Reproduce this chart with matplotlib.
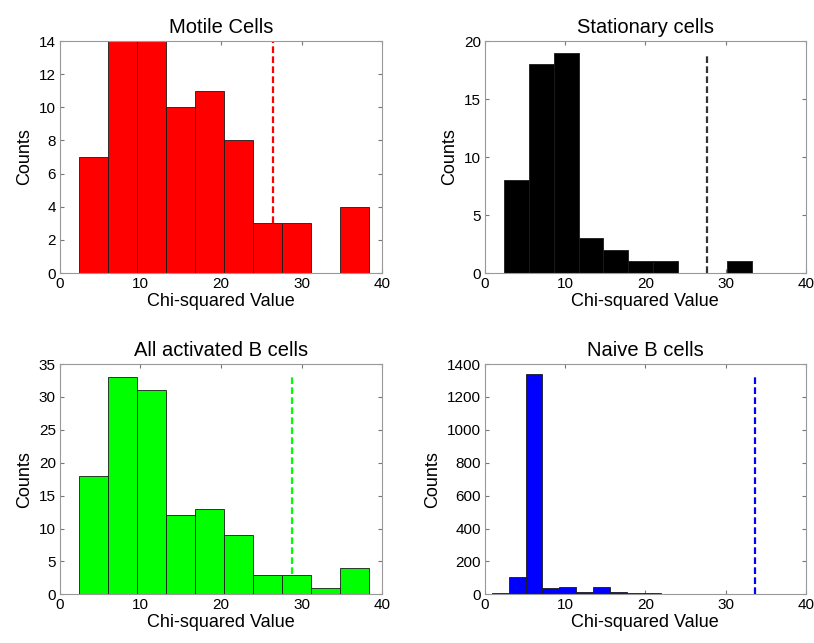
import matplotlib
matplotlib.use("Agg")
import matplotlib.pyplot as plt
import numpy as np

plt.rcParams["font.family"] = ["Liberation Sans", "DejaVu Sans"]

# bin ranges (first edge, last edge), 10 equal bins each
motile_range = (2.3, 38.4)
motile_counts = [7, 14, 14, 10, 11, 8, 3, 3, 0, 4]
motile_cutoff = 26.45

stationary_range = (2.4, 33.3)
stationary_counts = [8, 18, 19, 3, 2, 1, 1, 0, 0, 1]
stationary_cutoff = 27.7

activated_range = (2.3, 38.4)
activated_counts = [18, 33, 31, 12, 13, 9, 3, 3, 1, 4]
activated_cutoff = 28.8

naive_range = (0.85, 21.9)
naive_counts = [7, 108, 1340, 37, 46, 12, 45, 12, 7, 7]
naive_cutoff = 33.7

panels = [
    ("Motile Cells", motile_range, motile_counts, motile_cutoff, "#ff0000", "#ff0000", [0, 14], 2),
    ("Stationary cells", stationary_range, stationary_counts, stationary_cutoff, "#000000", "#333333", [0, 20], 5),
    ("All activated B cells", activated_range, activated_counts, activated_cutoff, "#00ff00", "#00ff00", [0, 35], 5),
    ("Naive B cells", naive_range, naive_counts, naive_cutoff, "#0000ff", "#0000ff", [0, 1400], 200),
]

positions = [
    [0.0737, 0.5754, 0.3956, 0.3608],
    [0.5958, 0.5754, 0.3940, 0.3608],
    [0.0737, 0.0757, 0.3956, 0.3582],
    [0.5958, 0.0757, 0.3940, 0.3582],
]

fig = plt.figure(figsize=(8.14, 6.43), dpi=100)

for (title, rng, counts, cutoff, color, line_color, ylim, ystep), pos in zip(panels, positions):
    ax = fig.add_axes(pos)
    edges = np.linspace(rng[0], rng[1], len(counts) + 1)
    ax.hist(edges[:-1], bins=edges, weights=counts, color=color,
            edgecolor="#1a1a1a", linewidth=0.6, zorder=2)
    ax.plot([cutoff, cutoff], [0, max(counts)], linestyle=(0, (3, 1.5)),
            color=line_color, linewidth=1.6, zorder=1)
    ax.set_xlim(0, 40)
    ax.set_ylim(*ylim)
    ax.set_xticks(np.arange(0, 41, 10))
    ax.set_yticks(np.arange(ylim[0], ylim[1] + 1, ystep))
    ax.tick_params(direction="in", top=True, right=True, length=3,
                   labelsize=11, color="#777777", pad=3)
    for spine in ax.spines.values():
        spine.set_color("#999999")
        spine.set_linewidth(0.8)
    ax.set_title(title, fontsize=14.5, pad=6)
    ax.set_xlabel("Chi-squared Value", fontsize=13, labelpad=1)
    ax.set_ylabel("Counts", fontsize=13, labelpad=4)

fig.savefig("out.png", dpi=100)
